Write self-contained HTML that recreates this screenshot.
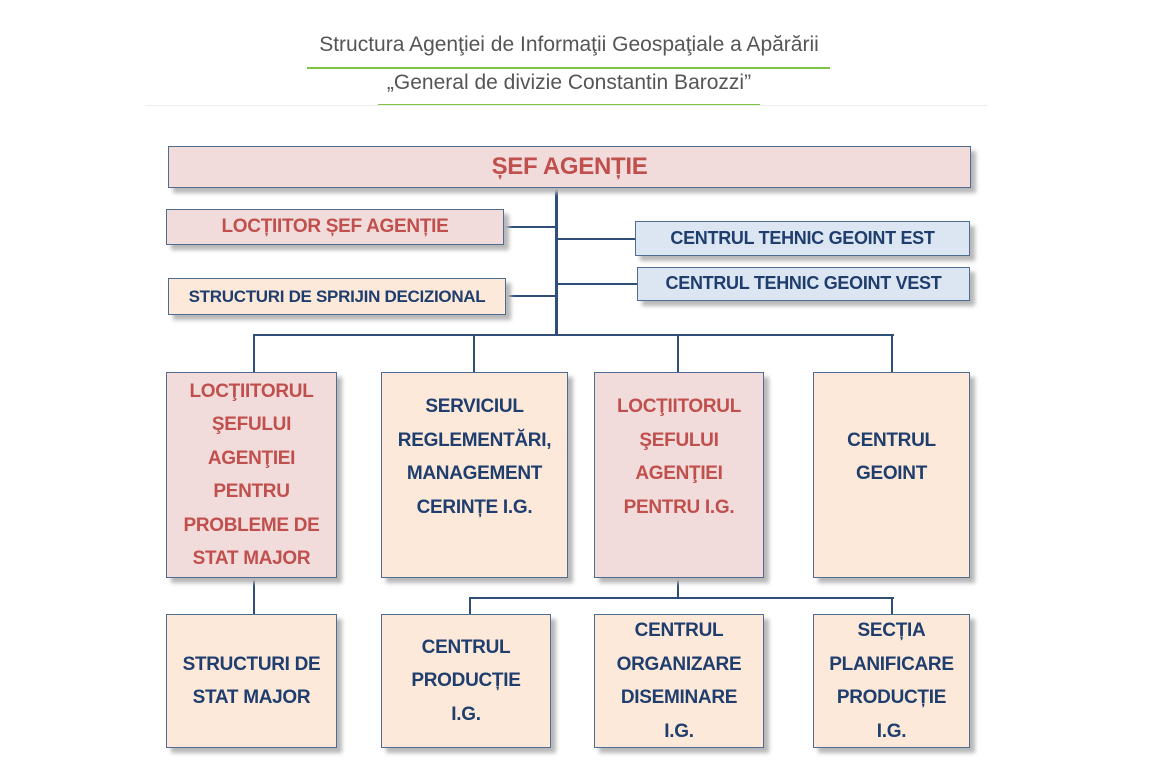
<!DOCTYPE html>
<html><head><meta charset="utf-8"><style>
body{margin:0;width:1152px;height:771px;background:#fff;position:relative;overflow:hidden;font-family:"Liberation Sans",sans-serif}
.t{position:absolute;left:0;width:1138px;text-align:center;color:#555;font-size:21px}
.b{position:absolute;box-sizing:border-box;border:1.5px solid #4f6d91;box-shadow:5px 5px 4px #b8b8b8;display:flex;align-items:center;justify-content:center;text-align:center;font-weight:bold;font-size:19px;line-height:33.5px;letter-spacing:-0.3px}
.p{background:#f2dcdb;color:#c0504d}
.o{background:#fde9d9;color:#1f3e6e}
.u{background:#dce6f2;color:#1f3e6e}
.l{position:absolute;background:#2f4f78}
</style></head><body>
<div class="t" style="top:33px">Structura Agenţiei de Informaţii Geospaţiale a Apărării</div>
<div style="position:absolute;left:307px;top:67px;width:523px;height:2px;background:#7dc242"></div>
<div class="t" style="top:71px">„General de divizie Constantin Barozzi”</div>
<div style="position:absolute;left:378px;top:104px;width:382px;height:2px;background:#7dc242"></div>
<div style="position:absolute;left:145px;top:105px;width:843px;height:1px;background:#eee"></div>

<div class="l" style="left:555px;top:188px;width:3px;height:148px"></div>
<div class="l" style="left:504px;top:226px;width:52px;height:2px"></div>
<div class="l" style="left:556px;top:238px;width:80px;height:2px"></div>
<div class="l" style="left:556px;top:283px;width:82px;height:2px"></div>
<div class="l" style="left:506px;top:295px;width:50px;height:2px"></div>
<div class="l" style="left:253px;top:334px;width:641px;height:2px"></div>
<div class="l" style="left:253px;top:334px;width:2px;height:38px"></div>
<div class="l" style="left:473px;top:334px;width:2px;height:38px"></div>
<div class="l" style="left:677px;top:334px;width:2px;height:38px"></div>
<div class="l" style="left:891px;top:334px;width:2px;height:38px"></div>
<div class="l" style="left:253px;top:578px;width:2px;height:36px"></div>
<div class="l" style="left:677px;top:578px;width:2px;height:20px"></div>
<div class="l" style="left:469px;top:597px;width:425px;height:2px"></div>
<div class="l" style="left:469px;top:597px;width:2px;height:17px"></div>
<div class="l" style="left:891px;top:597px;width:2px;height:17px"></div>

<div class="b p" style="left:168px;top:146px;width:803px;height:42px;font-size:24px">ȘEF AGENȚIE</div>
<div class="b p" style="left:166px;top:209px;width:338px;height:36px;font-size:19px">LOCȚIITOR ȘEF AGENȚIE</div>
<div class="b o" style="left:168px;top:278px;width:338px;height:37px;font-size:17px">STRUCTURI DE SPRIJIN DECIZIONAL</div>
<div class="b u" style="left:635px;top:221px;width:335px;height:35px;font-size:18px">CENTRUL TEHNIC GEOINT EST</div>
<div class="b u" style="left:637px;top:267px;width:333px;height:34px;font-size:18px">CENTRUL TEHNIC GEOINT VEST</div>

<div class="b p" style="left:166px;top:372px;width:171px;height:206px">LOCŢIITORUL<br>ŞEFULUI<br>AGENŢIEI<br>PENTRU<br>PROBLEME DE<br>STAT MAJOR</div>
<div class="b o" style="left:381px;top:372px;width:187px;height:206px;padding-bottom:36px">SERVICIUL<br>REGLEMENTĂRI,<br>MANAGEMENT<br>CERINȚE I.G.</div>
<div class="b p" style="left:594px;top:372px;width:170px;height:206px;padding-bottom:36px">LOCŢIITORUL<br>ŞEFULUI<br>AGENŢIEI<br>PENTRU I.G.</div>
<div class="b o" style="left:813px;top:372px;width:157px;height:206px;padding-bottom:36px">CENTRUL<br>GEOINT</div>

<div class="b o" style="left:166px;top:614px;width:171px;height:134px">STRUCTURI DE<br>STAT MAJOR</div>
<div class="b o" style="left:381px;top:614px;width:170px;height:134px">CENTRUL<br>PRODUCȚIE<br>I.G.</div>
<div class="b o" style="left:594px;top:614px;width:170px;height:134px">CENTRUL<br>ORGANIZARE<br>DISEMINARE<br>I.G.</div>
<div class="b o" style="left:813px;top:614px;width:157px;height:134px">SECȚIA<br>PLANIFICARE<br>PRODUCȚIE<br>I.G.</div>
</body></html>
